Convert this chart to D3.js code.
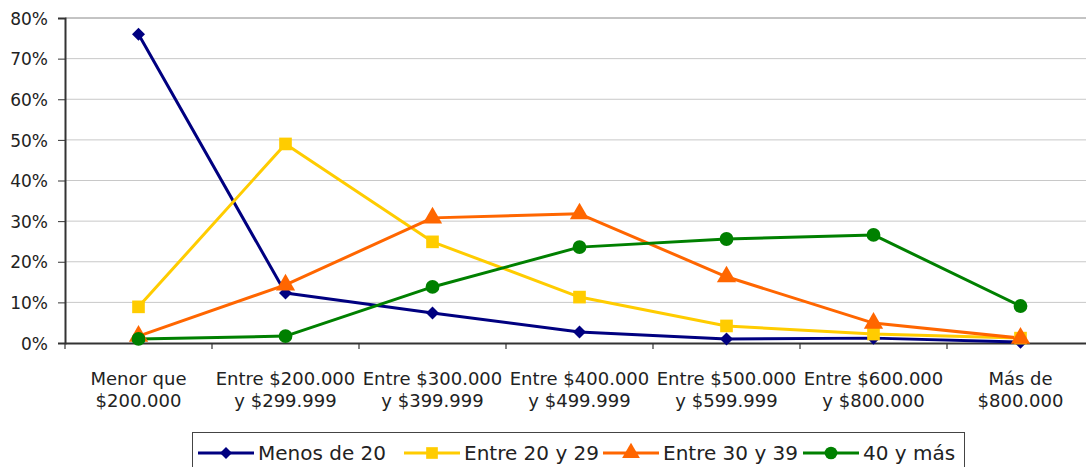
<!DOCTYPE html>
<html>
<head>
<meta charset="utf-8">
<script src="https://cdn.jsdelivr.net/npm/d3@7"></script>
<style>
  body { margin: 0; background: #fff; }
  svg text { font-family: "DejaVu Sans", sans-serif; fill: #222; }
</style>
</head>
<body>
<svg width="1086" height="467"></svg>
<script>
var categories = [
  ["Menor que", "$200.000"],
  ["Entre $200.000", "y $299.999"],
  ["Entre $300.000", "y $399.999"],
  ["Entre $400.000", "y $499.999"],
  ["Entre $500.000", "y $599.999"],
  ["Entre $600.000", "y $800.000"],
  ["M\u00e1s de", "$800.000"]
];
var seriesNames = ["Menos de 20", "Entre 20 y 29", "Entre 30 y 39", "40 y m\u00e1s"];
var menos20 = [0.76, 0.123, 0.074, 0.027, 0.010, 0.012, 0.002];
var entre20 = [0.089, 0.49, 0.249, 0.113, 0.042, 0.022, 0.012];
var entre30 = [0.017, 0.143, 0.308, 0.318, 0.163, 0.049, 0.012];
var mas40   = [0.010, 0.017, 0.138, 0.236, 0.256, 0.266, 0.091];
var yTicks = [0, 0.1, 0.2, 0.3, 0.4, 0.5, 0.6, 0.7, 0.8];

var colors = ["#000080", "#ffcc00", "#ff6600", "#008000"];
var shapes = [d3.symbolSquare, d3.symbolSquare, d3.symbolTriangle, d3.symbolCircle];
var sizes = [85, 160, 160, 150];
var rotate = [45, 0, 0, 0];
var allSeries = [menos20, entre20, entre30, mas40];

function main(){
  var svg = d3.select("svg");
  var left = 65, top = 18, plotW = 147 * 7, plotH = 325;

  var xScale = d3.scaleBand().domain(d3.range(categories.length)).range([0, plotW]);
  var yScale = d3.scaleLinear().domain([0, 0.8]).range([plotH, 0]);

  var g = svg.append("g").attr("transform", "translate(" + left + "," + top + ")");

  // gridlines
  g.selectAll(".grid").data(yTicks.slice(1)).enter().append("line")
    .attr("x1", 0).attr("x2", plotW)
    .attr("y1", function(d){ return yScale(d); })
    .attr("y2", function(d){ return yScale(d); })
    .attr("stroke", function(d){ return d === 0.8 ? "#888" : "#c8c8c8"; })
    .attr("stroke-width", 1);

  var yAxis = g.append("g")
    .call(d3.axisLeft(yScale).tickValues(yTicks).tickFormat(d3.format(".0%")).tickSize(7).tickPadding(10));
  yAxis.select(".domain").attr("stroke", "#333").attr("stroke-width", 2);
  yAxis.selectAll(".tick line").attr("stroke", "#333");
  yAxis.selectAll(".tick text").attr("font-size", "17px").attr("dy", "0.36em")
    .style("font-family", "'DejaVu Sans', sans-serif").attr("fill", "#222");

  var xAxis = g.append("g").attr("transform", "translate(0," + plotH + ")")
    .call(d3.axisBottom(xScale).tickValues([]).tickSizeOuter(0));
  xAxis.select(".domain").attr("stroke", "#333").attr("stroke-width", 2);
  // band boundary ticks
  xAxis.selectAll(".bt").data(d3.range(categories.length)).enter().append("line")
    .attr("x1", function(d){ return xScale(d); }).attr("x2", function(d){ return xScale(d); })
    .attr("y1", 0).attr("y2", 6).attr("stroke", "#333").attr("stroke-width", 1.2);

  var labels = g.append("g").selectAll("text").data(categories).enter().append("text")
    .attr("text-anchor", "middle")
    .attr("font-size", "18px")
    .attr("x", function(d, i){ return xScale(i) + xScale.bandwidth() / 2; })
    .attr("y", plotH + 42);
  labels.append("tspan").attr("x", function(d, i){ return xScale(i) + xScale.bandwidth() / 2; })
    .text(function(d){ return d[0]; });
  labels.append("tspan").attr("x", function(d, i){ return xScale(i) + xScale.bandwidth() / 2; })
    .attr("dy", 22).text(function(d){ return d[1]; });

  var line = d3.line()
    .x(function(d, i){ return xScale(i) + xScale.bandwidth() / 2; })
    .y(function(d){ return yScale(d); });

  allSeries.forEach(function(vals, s){
    g.append("path").datum(vals)
      .attr("fill", "none").attr("stroke", colors[s]).attr("stroke-width", 3)
      .attr("stroke-linejoin", "round").attr("d", line);
  });
  allSeries.forEach(function(vals, s){
    g.selectAll(".m" + s).data(vals).enter().append("path")
      .attr("d", d3.symbol().type(shapes[s]).size(sizes[s]))
      .attr("fill", colors[s])
      .attr("transform", function(d, i){
        return "translate(" + (xScale(i) + xScale.bandwidth() / 2) + "," + yScale(d) + ") rotate(" + rotate[s] + ")";
      });
  });

  // legend
  var lg = svg.append("g");
  lg.append("rect").attr("x", 192.5).attr("y", 432.5).attr("width", 772).attr("height", 40)
    .attr("fill", "#fff").attr("stroke", "#444").attr("stroke-width", 1);
  var lx = [198, 404, 603, 803];
  seriesNames.forEach(function(name, s){
    lg.append("line").attr("x1", lx[s]).attr("x2", lx[s] + 56)
      .attr("y1", 453).attr("y2", 453).attr("stroke", colors[s]).attr("stroke-width", 3);
    lg.append("path").attr("d", d3.symbol().type(shapes[s]).size(sizes[s] * 0.85)())
      .attr("fill", colors[s]).attr("transform", "translate(" + (lx[s] + 28) + ",453) rotate(" + rotate[s] + ")");
    lg.append("text").attr("x", lx[s] + 60).attr("y", 460)
      .attr("font-size", "20px").text(name);
  });
}
main();
</script>
</body>
</html>
